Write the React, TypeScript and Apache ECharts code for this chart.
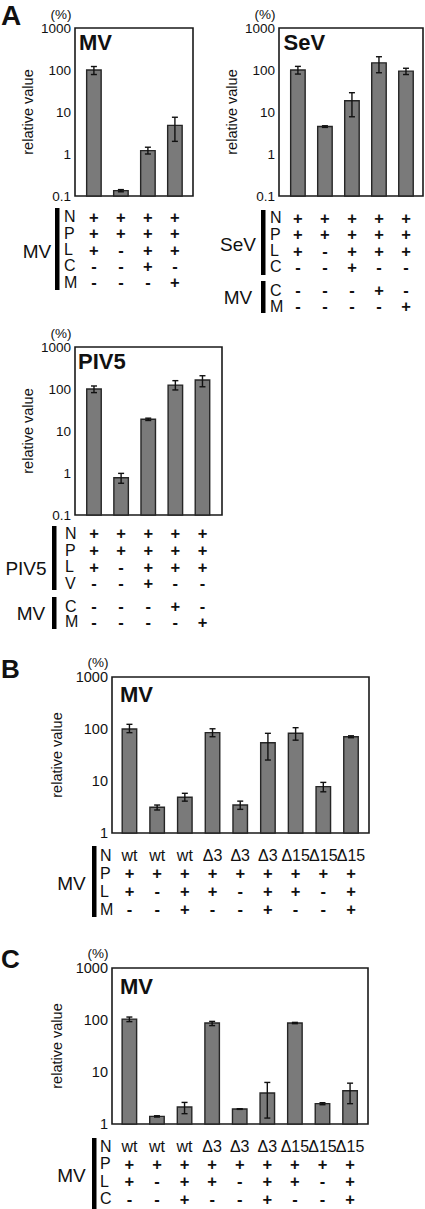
import React, { useEffect, useRef } from 'react';
import * as echarts from 'echarts';

const FONT = '"Liberation Sans", Arial, Helvetica, sans-serif';

// ---------- data ----------
// Panel A, MV
const aMvValues = [100, 0.134, 1.2, 4.8];
const aMvLow = [78, 0.126, 1.0, 2.0];
const aMvHigh = [121, 0.142, 1.45, 7.5];
const aMvRowLabels = ['N', 'P', 'L', 'C', 'M'];
const aMvSigns = ['++++', '++++', '+-++', '--+-', '---+'];

// Panel A, SeV
const aSevValues = [100, 4.5, 18.6, 148, 94];
const aSevLow = [80, 4.3, 7.7, 86, 78];
const aSevHigh = [122, 4.7, 28.8, 207, 110];
const aSevRowLabels = ['N', 'P', 'L', 'C'];
const aSevSigns = ['+++++', '+++++', '+-+++', '--+--'];
const aSevMvRowLabels = ['C', 'M'];
const aSevMvSigns = ['---+-', '----+'];

// Panel A, PIV5
const aPivValues = [100, 0.77, 19, 124, 164];
const aPivLow = [82, 0.57, 17.8, 95, 113];
const aPivHigh = [118, 0.98, 20.2, 158, 207];
const aPivRowLabels = ['N', 'P', 'L', 'V'];
const aPivSigns = ['+++++', '+++++', '+-+++', '--+--'];
const aPivMvRowLabels = ['C', 'M'];
const aPivMvSigns = ['---+-', '----+'];

// Panel B
const bValues = [100, 3.12, 4.86, 85, 3.45, 54.5, 82.6, 7.8, 71];
const bLow = [85, 2.77, 4.1, 71, 2.85, 25.3, 61, 6.2, 68];
const bHigh = [123, 3.45, 5.8, 101, 4.1, 82.6, 106, 9.4, 74];
const bcNRow = ['wt', 'wt', 'wt', 'Δ3', 'Δ3', 'Δ3', 'Δ15', 'Δ15', 'Δ15'];
const bRowLabels = ['N', 'P', 'L', 'M'];
const bSigns = ['+++++++++', '+-++-++-+', '--+--+--+'];

// Panel C
const cValues = [104, 1.4, 2.12, 87.5, 1.94, 3.95, 87.5, 2.46, 4.37];
const cLow = [93, 1.36, 1.58, 78, 1.91, 1.3, 85, 2.35, 2.46];
const cHigh = [114, 1.44, 2.6, 94, 1.97, 6.3, 90, 2.57, 6.1];
const cRowLabels = ['N', 'P', 'L', 'C'];
const cSigns = ['+++++++++', '+-++-++-+', '--+--+--+'];

// ---------- layout ----------
const panels = [
  { left: 75, top: 28, width: 118, height: 168, xMin: -0.7, xMax: 3.67, yMin: 0.1, title: 'MV', titleDx: 4, titleDy: 14.5, tick: 13.5 },
  { left: 279, top: 28, width: 144, height: 168, xMin: -0.7, xMax: 4.63, yMin: 0.1, title: 'SeV', titleDx: 4.5, titleDy: 14.5, tick: 13.5 },
  { left: 75, top: 347, width: 147, height: 168, xMin: -0.7, xMax: 4.72, yMin: 0.1, title: 'PIV5', titleDx: 3, titleDy: 14.5, tick: 13.5 },
  { left: 112, top: 677, width: 257, height: 156, xMin: -0.63, xMax: 8.65, yMin: 1, title: 'MV', titleDx: 8, titleDy: 17.5, tick: 14.5 },
  { left: 112, top: 968, width: 256, height: 156, xMin: -0.63, xMax: 8.65, yMin: 1, title: 'MV', titleDx: 8, titleDy: 18.5, tick: 14.5 },
];

const seriesData = [
  [aMvValues, aMvLow, aMvHigh],
  [aSevValues, aSevLow, aSevHigh],
  [aPivValues, aPivLow, aPivHigh],
  [bValues, bLow, bHigh],
  [cValues, cLow, cHigh],
];

function buildData(v: number[], lo: number[], hi: number[]) {
  return v.map((val, i) => [i, val, lo[i], hi[i]]);
}

function makeRenderItem(yMin: number) {
  return (_params: any, api: any) => {
    const i = api.value(0);
    const top = api.coord([i, api.value(1)]);
    const base = api.coord([i, yMin]);
    const lo = api.coord([i, api.value(2)]);
    const hi = api.coord([i, api.value(3)]);
    const w = 14.5;
    const cap = 3;
    const x = top[0];
    const es = { stroke: '#111', lineWidth: 1.4 };
    return {
      type: 'group',
      children: [
        { type: 'rect', shape: { x: x - w / 2, y: top[1], width: w, height: base[1] - top[1] }, style: { fill: '#7a7a7a', stroke: '#262626', lineWidth: 1.4 } },
        { type: 'line', shape: { x1: x, y1: hi[1], x2: x, y2: lo[1] }, style: es },
        { type: 'line', shape: { x1: x - cap, y1: hi[1], x2: x + cap, y2: hi[1] }, style: es },
        { type: 'line', shape: { x1: x - cap, y1: lo[1], x2: x + cap, y2: lo[1] }, style: es },
      ],
    };
  };
}

function txt(text: string, x: number, y: number, size: number, align: string, weight: string = 'normal', vAlign: string = 'middle') {
  return {
    type: 'text',
    x,
    y,
    silent: true,
    style: {
      text,
      fill: '#111',
      fontSize: size,
      fontFamily: FONT,
      fontWeight: weight,
      align,
      textAlign: align,
      verticalAlign: vAlign,
      textVerticalAlign: vAlign,
    },
  };
}

type Group = {
  cols: number[];
  letterX: number;
  barX: number;
  barTop: number;
  barBottom: number;
  y0: number;
  step: number;
  labels: string[];
  rows: string[][];
  groupLabel: string;
  gx: number;
  gy: number;
};

function groupGraphics(g: Group) {
  const els: any[] = [];
  els.push({ type: 'rect', silent: true, shape: { x: g.barX, y: g.barTop, width: 4.5, height: g.barBottom - g.barTop }, style: { fill: '#000' } });
  g.labels.forEach((lab, r) => {
    const y = g.y0 + r * g.step;
    els.push(txt(lab, g.letterX, y, 16, 'left'));
    g.rows[r].forEach((cell, c) => {
      const isSign = cell === '+' || cell === '-';
      els.push(txt(cell, g.cols[c], y, isSign ? 16.5 : 16, 'center', isSign ? 'bold' : 'normal'));
    });
  });
  els.push(txt(g.groupLabel, g.gx, g.gy, 19, 'center'));
  return els;
}

const split = (s: string) => s.split('');

export default function App() {
  const ref = useRef<HTMLDivElement>(null);
  useEffect(() => {
    document.body.style.margin = '0';
    const chart = echarts.init(ref.current as HTMLDivElement, null, { renderer: 'svg' });
    const fmt = (v: any) => {
      const n = Number(v);
      return n < 1 ? String(Number(n.toFixed(1))) : String(Math.round(n));
    };
    chart.setOption({
      animation: false,
      backgroundColor: '#fff',
      grid: panels.map((p) => ({
        left: p.left,
        top: p.top,
        width: p.width,
        height: p.height,
        show: true,
        borderColor: '#1a1a1a',
        borderWidth: 1.6,
        backgroundColor: 'transparent',
        containLabel: false,
      })),
      xAxis: panels.map((p, k) => ({
        type: 'value',
        gridIndex: k,
        min: p.xMin,
        max: p.xMax,
        show: false,
      })),
      yAxis: panels.map((p, k) => ({
        type: 'log',
        logBase: 10,
        gridIndex: k,
        min: p.yMin,
        max: 1000,
        axisLine: { show: false },
        axisTick: { show: false },
        splitLine: { show: false },
        axisLabel: { fontSize: p.tick, color: '#111', fontFamily: FONT, margin: 4, formatter: fmt, showMinLabel: true, showMaxLabel: true },
        name: 'relative value',
        nameLocation: 'middle',
        nameGap: 40,
        nameTextStyle: { fontSize: 14.5, color: '#111', fontFamily: FONT },
      })),
      series: panels.map((p, k) => ({
        type: 'custom',
        xAxisIndex: k,
        yAxisIndex: k,
        silent: true,
        clip: false,
        encode: { x: 0, y: 1 },
        renderItem: makeRenderItem(p.yMin),
        data: buildData(seriesData[k][0], seriesData[k][1], seriesData[k][2]),
      })),
    });

    const colsOf = (k: number, n: number) =>
      Array.from({ length: n }, (_, i) => chart.convertToPixel({ xAxisIndex: k } as any, i) as number);

    const els: any[] = [];
    // panel letters
    els.push(txt('A', 1, 15, 28, 'left', 'bold'));
    els.push(txt('B', 1, 669, 26, 'left', 'bold'));
    els.push(txt('C', 1, 959, 26, 'left', 'bold'));
    // (%) and titles
    panels.forEach((p, k) => {
      els.push(txt('(%)', p.left - 3.5, p.top - (k < 3 ? 14 : 15), 13.5, 'right'));
      els.push(txt(p.title, p.left + p.titleDx, p.top + p.titleDy, 22, 'left', 'bold'));
    });

    const c0 = colsOf(0, 4);
    const c1 = colsOf(1, 5);
    const c2 = colsOf(2, 5);
    const c3 = colsOf(3, 9);
    const c4 = colsOf(4, 9);

    els.push(...groupGraphics({ cols: c0, letterX: 64, barX: 55, barTop: 208, barBottom: 290, y0: 216.7, step: 16.4, labels: aMvRowLabels, rows: aMvSigns.map(split), groupLabel: 'MV', gx: 37, gy: 251.5 }));
    els.push(...groupGraphics({ cols: c1, letterX: 270, barX: 261, barTop: 210, barBottom: 275, y0: 217.7, step: 16.4, labels: aSevRowLabels, rows: aSevSigns.map(split), groupLabel: 'SeV', gx: 238, gy: 244 }));
    els.push(...groupGraphics({ cols: c1, letterX: 270, barX: 261, barTop: 281, barBottom: 313, y0: 290, step: 16.2, labels: aSevMvRowLabels, rows: aSevMvSigns.map(split), groupLabel: 'MV', gx: 238, gy: 297.5 }));
    els.push(...groupGraphics({ cols: c2, letterX: 65, barX: 52, barTop: 526, barBottom: 590, y0: 533.3, step: 16.7, labels: aPivRowLabels, rows: aPivSigns.map(split), groupLabel: 'PIV5', gx: 26, gy: 568 }));
    els.push(...groupGraphics({ cols: c2, letterX: 65, barX: 52, barTop: 597, barBottom: 629, y0: 606, step: 15.7, labels: aPivMvRowLabels, rows: aPivMvSigns.map(split), groupLabel: 'MV', gx: 31, gy: 613 }));
    els.push(...groupGraphics({ cols: c3, letterX: 100, barX: 92, barTop: 846, barBottom: 917, y0: 855, step: 18, labels: bRowLabels, rows: [bcNRow, ...bSigns.map(split)], groupLabel: 'MV', gx: 71.5, gy: 883 }));
    els.push(...groupGraphics({ cols: c4, letterX: 100, barX: 92, barTop: 1138, barBottom: 1209, y0: 1146.5, step: 17.4, labels: cRowLabels, rows: [bcNRow, ...cSigns.map(split)], groupLabel: 'MV', gx: 71.5, gy: 1175 }));

    chart.setOption({ graphic: { elements: els } });
    return () => chart.dispose();
  }, []);
  return <div ref={ref} style={{ position: 'absolute', left: 0, top: 0, width: 425, height: 1209 }} />;
}
